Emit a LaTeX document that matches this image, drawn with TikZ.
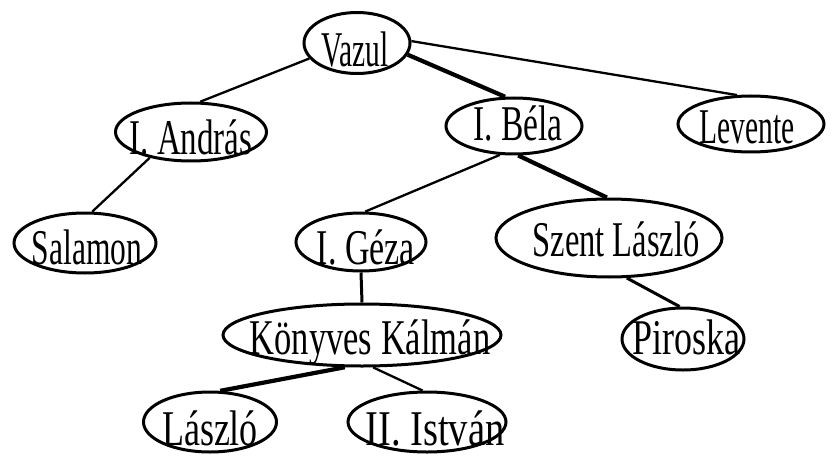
\documentclass[tikz,border=0pt]{standalone}
\usepackage{fontspec}
\setmainfont{Liberation Serif}
\usetikzlibrary{shapes.geometric}
\tikzset{
  person/.style={ellipse, draw, line width=3pt, inner sep=0pt},
  personname/.style={anchor=base, inner sep=0pt, font=\fontsize{50}{50}\selectfont},
  thin link/.style={line width=2.3pt},
  mid link/.style={line width=3pt},
  thick link/.style={line width=4.2pt},
}
\newcommand\squeezed[2]{\scalebox{#1}[1]{#2}}

\begin{document}
\begin{tikzpicture}[x=1pt,y=-1pt]
\useasboundingbox (0,0) rectangle (834,457);

% family members
\node[person, minimum width=106, minimum height=61] (vazul)    at (357,43)  {};
\node[person, minimum width=151, minimum height=58] (andras)   at (191,132) {};
\node[person, minimum width=136, minimum height=56] (bela)     at (514,126) {};
\node[person, minimum width=146, minimum height=56] (levente)  at (751,124) {};
\node[person, minimum width=142, minimum height=60] (salamon)  at (85,243)  {};
\node[person, minimum width=130, minimum height=58] (geza)     at (361,242) {};
\node[person, minimum width=226, minimum height=78] (szent)    at (609,238) {};
\node[person, minimum width=278, minimum height=62] (konyves)  at (362,335) {};
\node[person, minimum width=122, minimum height=62] (piroska)  at (683,339) {};
\node[person, minimum width=133, minimum height=60] (laszlo)   at (210,422) {};
\node[person, minimum width=158, minimum height=60] (istvan)   at (427,422) {};

% names
\node[personname] (vazul-t)   at (355,67)  {\squeezed{0.59}{Vazul}};
\node[personname] (andras-t)  at (191,155) {\squeezed{0.66}{I. András}};
\node[personname] (bela-t)    at (518,141) {\squeezed{0.67}{I. Béla}};
\node[personname] (levente-t) at (747,144) {\squeezed{0.59}{Levente}};
\node[personname] (salamon-t) at (87,264)  {\squeezed{0.63}{Salamon}};
\node[personname] (geza-t)    at (366,264) {\squeezed{0.68}{I. Géza}};
\node[personname] (szent-t)   at (616,256) {\squeezed{0.65}{Szent László}};
\node[personname] (konyves-t) at (370,354) {\squeezed{0.69}{Könyves Kálmán}};
\node[personname] (piroska-t) at (686,354) {\squeezed{0.72}{Piroska}};
\node[personname] (laszlo-t)  at (210,445) {\squeezed{0.72}{László}};
\node[personname] (istvan-t)  at (435,445) {\squeezed{0.77}{II. István}};

% descent lines
\draw[thin link]  (vazul.198)   -- (andras.73);
\draw[thick link] (vazul.347)   -- (bela.107);
\draw[thin link]  (vazul.2)     -- (levente.116);
\draw[thin link]  (andras.212)  -- (salamon.77);
\draw[thin link]  (bela.244)    -- (geza.82);
\draw[thick link] (bela.278)    -- (szent.93);
\draw[mid link]   (geza.270)    -- (konyves.90);
\draw[mid link]   (szent.294)   -- (piroska.96);
\draw[thick link] (konyves.242) -- (laszlo.72);
\draw[thin link]  (konyves.289) -- (istvan.98);
\end{tikzpicture}
\end{document}
